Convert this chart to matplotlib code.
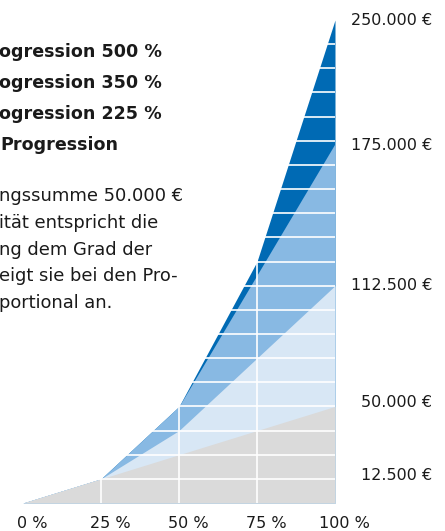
#!/usr/bin/env python3
import matplotlib
matplotlib.use('Agg')
import matplotlib.pyplot as plt

# Invaliditätsgrad in %
grad = [0, 25, 50, 75, 100]
grad_350 = [0, 25, 50, 100]

# Leistung in Euro (Versicherungssumme 50.000 €)
linear = [0, 12500, 25000, 37500, 50000]
prog_225 = [0, 12500, 37500, 75000, 112500]
prog_350 = [0, 12500, 50000, 186000]
prog_500 = [0, 12500, 50000, 125000, 250000]

x_labels = ['0 %', '25 %', '50 %', '75 %', '100 %']
y_ticks = [14000, 52000, 112500, 185000, 249500]
y_labels = ['12.500 €', '50.000 €', '112.500 €', '175.000 €', '250.000 €']

legend_lines = ['ogression 500 %', 'ogression 350 %', 'ogression 225 %', 'Progression']
text_lines = ['ngssumme 50.000 €', 'ität entspricht die', 'ng dem Grad der',
              'eigt sie bei den Pro-', 'portional an.']

W, H = 445, 531


def fx(px):
    return px / W


def fy(py):
    return 1 - py / H


def main():
    plt.rcParams['font.family'] = ['DejaVu Sans']
    fig = plt.figure(figsize=(W / 100, H / 100), dpi=100)
    ax = fig.add_axes([fx(23), fy(503), fx(335) - fx(23), fy(20) - fy(503)])

    # Flächen von oben nach unten übereinander legen
    ax.fill_between(grad, 0, prog_500, color='#006ab4', lw=0)
    ax.fill_between(grad_350, 0, prog_350, color='#88b9e3', lw=0)
    ax.fill_between(grad, 0, prog_225, color='#d8e7f5', lw=0)
    ax.fill_between(grad, 0, linear, color='#dadada', lw=0)

    # weißes Raster
    for k in range(1, 20):
        ax.axhline(12500 * k, color='white', lw=1.2)
    for g in grad[1:-1]:
        ax.axvline(g, color='white', lw=1.2)

    ax.set_xlim(0, 100)
    ax.set_ylim(0, 250000)
    ax.axis('off')

    for g, lab in zip(grad, x_labels):
        ax.annotate(lab, xy=(g, 0), xycoords=('data', 'axes fraction'),
                    xytext=(6.5, -14.5), textcoords='offset points',
                    ha='center', va='center', fontsize=11.5, color='#1a1a1a')

    for v, lab in zip(y_ticks, y_labels):
        ax.annotate(lab, xy=(1, v), xycoords=('axes fraction', 'data'),
                    xytext=(70, 0), textcoords='offset points',
                    ha='right', va='center', fontsize=11.5, color='#1a1a1a')

    for i, s in enumerate(legend_lines):
        fig.text(fx(0 if i == 3 else -1), fy(57 + 31 * i), s, fontsize=12.6,
                 fontweight='bold', va='baseline', ha='left', color='#1a1a1a')

    for i, s in enumerate(text_lines):
        fig.text(fx(-1), fy(201 + 26.8 * i), s, fontsize=12.9,
                 va='baseline', ha='left', color='#1a1a1a')

    plt.savefig('out.png', dpi=100)
    print("Plot saved as 'out.png'")


if __name__ == "__main__":
    main()
